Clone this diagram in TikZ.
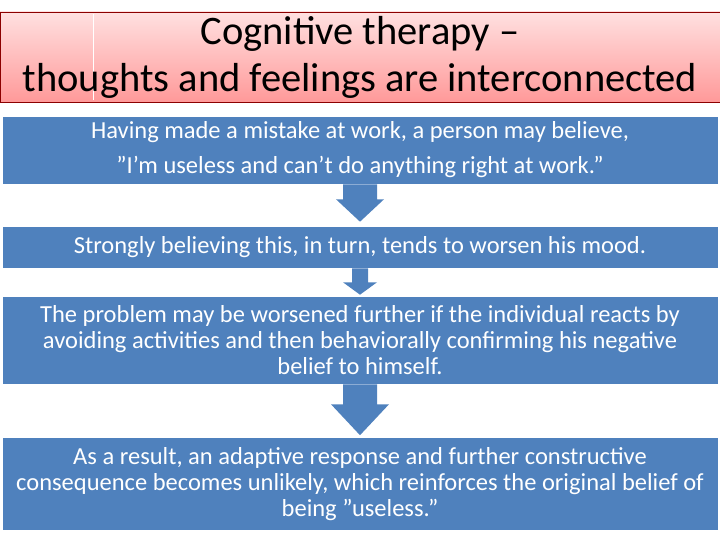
\documentclass[tikz,border=0pt]{standalone}
\usepackage{fontspec}
\setmainfont{Carlito}
\usetikzlibrary{calc}
\definecolor{boxblue}{RGB}{79,129,189}
\newcommand{\sq}{\symbol{34}}
\newcommand{\ap}{\symbol{39}}
\tikzset{
  bx/.style={fill=boxblue, draw=white, line width=0.6pt, text=white, minimum width=716, align=center, inner sep=0pt, font=\fontsize{24.5}{26}\selectfont},
  arr/.style={fill=boxblue, draw=none}
}
\begin{document}
\begin{tikzpicture}[x=1pt,y=-1pt]
\useasboundingbox (0,0) rectangle (720,540);
\shade[top color=red!12, bottom color=red!40!white] (0,12) rectangle (720,102);
\draw[red!55!black, line width=0.5pt] (0,12) rectangle (720,102);
\draw[white, line width=0.5pt] (93,14) -- (93,100);
\node[font=\fontsize{40.5}{47}\selectfont, align=center] (t) at (360,57) {Cognitive therapy --\\thoughts and feelings are interconnected};
\node[bx, minimum height=68, font=\fontsize{24.5}{35}\selectfont] (b1) at (360,150) {Having made a mistake at work, a person may believe,\\\sq I\ap m useless and can\ap t do anything right at work.\sq};
\node[bx, minimum height=42] (b2) at (360,247) {Strongly believing this, in turn, tends to worsen his mood.};
\node[bx, minimum height=88] (b3) at (360,340) {The problem may be worsened further if the individual reacts by\\avoiding activities and then behaviorally confirming his negative\\belief to himself.};
\node[bx, minimum height=93] (b4) at (360,484) {As a result, an adaptive response and further constructive\\consequence becomes unlikely, which reinforces the original belief of\\being \sq useless.”};
\fill[arr] ($(b1.south)+(-17,0)$) -- ++(0,15) -- ++(-7,0) -- ($(b2.north)+(0,-4)$) -- ($(b1.south)+(24,15)$) -- ++(-7,0) -- ($(b1.south)+(17,0)$) -- cycle;
\fill[arr] ($(b2.south)+(-8,0)$) -- ++(0,14) -- ++(-9,0) -- ($(b3.north)+(0,-1)$) -- ($(b2.south)+(17,14)$) -- ++(-9,0) -- ($(b2.south)+(8,0)$) -- cycle;
\fill[arr] ($(b3.south)+(-17,0)$) -- ++(0,20) -- ++(-12,0) -- ($(b4.north)+(0,-2)$) -- ($(b3.south)+(29,20)$) -- ++(-12,0) -- ($(b3.south)+(17,0)$) -- cycle;
\end{tikzpicture}
\end{document}
